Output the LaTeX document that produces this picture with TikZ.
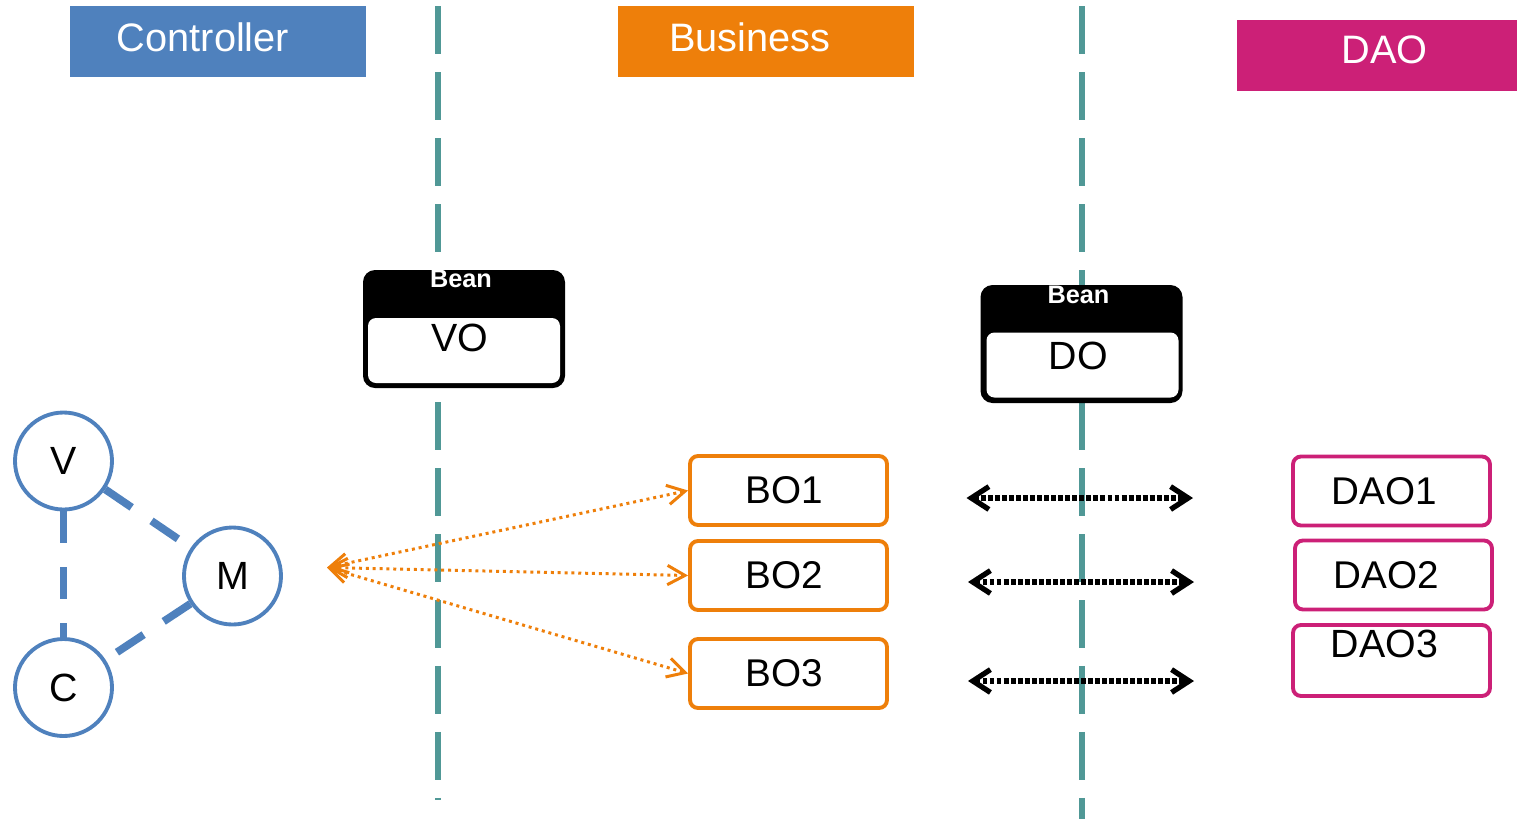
\documentclass[tikz,border=0pt]{standalone}
\usepackage{fontspec}
\setmainfont{Liberation Sans}
\usetikzlibrary{arrows.meta}
\definecolor{ctrlblue}{RGB}{79,129,189}
\definecolor{bizorange}{RGB}{238,127,10}
\definecolor{daopink}{RGB}{204,32,119}
\definecolor{septeal}{RGB}{80,152,150}
\begin{document}
\begin{tikzpicture}
		[	header/.style={rectangle,draw=none,minimum width=2.96cm,minimum height=0.71cm,inner sep=0pt},
		plain/.style={draw=none,fill=none,inner sep=0pt,font=\fontsize{11.2}{13}\selectfont},
		headtext/.style={plain,text=white,font=\fontsize{11.3}{13}\selectfont},
		sep/.style={septeal,line width=1.7pt,dash pattern=on 0.48cm off 0.18cm},
		mvc/.style={circle,draw=ctrlblue,line width=1.1pt,fill=white,minimum size=0.97cm,inner sep=0pt,font=\fontsize{11.2}{13}\selectfont},
		mvclink/.style={ctrlblue,line width=2.2pt,dash pattern=on 0.32cm off 0.24cm},
		beanout/.style={rectangle,fill=black,rounded corners=0.12cm,minimum width=2.02cm,minimum height=1.18cm,inner sep=0pt},
		beanin/.style={rectangle,fill=white,rounded corners=0.08cm,minimum width=1.92cm,minimum height=0.65cm,inner sep=0pt},
		beantext/.style={plain,text=white,font=\bfseries\fontsize{7.2}{8}\selectfont},
		bobox/.style={rectangle,draw=bizorange,fill=white,line width=1.1pt,rounded corners=0.08cm,minimum width=1.97cm,minimum height=0.69cm,inner sep=0pt,font=\fontsize{11}{13}\selectfont},
		daobox/.style={bobox,draw=daopink},
		boarrow/.style={bizorange,line width=0.85pt,dash pattern=on 0.85pt off 1.1pt,>={Straight Barb[length=5pt,width=5.5pt]},<->},
		doarrow/.style={black,line width=1.5pt,dash pattern=on 1.4pt off 0.6pt,>={Straight Barb[length=5pt,width=6.5pt]},<->},
		]
		\useasboundingbox (0,0) rectangle (15.17,-8.19);

		\draw[sep] (4.38,-0.06) -- (4.38,-8.00);
		\draw[sep] (10.82,-0.06) -- (10.82,-8.19);

		\node[header,fill=ctrlblue,name=ctrl] at (2.18,-0.415) {};
		\node[header,fill=bizorange,name=biz] at (7.66,-0.415) {};
		\node[header,fill=daopink,minimum width=2.80cm,name=dao] at (13.77,-0.555) {};
		\node[headtext,xshift=-0.15cm,yshift=0.045cm] at (ctrl) {Controller};
		\node[headtext,xshift=-0.16cm,yshift=0.045cm] at (biz) {Business};
		\node[headtext,xshift=0.075cm,yshift=0.055cm] at (dao) {DAO};

		\node[beanout,name=vobean] at (4.64,-3.29) {};
		\node[beanin,name=voin] at (4.64,-3.505) {};
		\node[beantext,xshift=-0.03cm,yshift=-0.10cm] at (vobean.north) {Bean};
		\node[plain,xshift=-0.045cm,yshift=0.125cm] at (voin) {VO};
		\node[beanout,name=dobean] at (10.815,-3.44) {};
		\node[beanin,name=doin] at (10.825,-3.65) {};
		\node[beantext,xshift=-0.03cm,yshift=-0.11cm] at (dobean.north) {Bean};
		\node[plain,xshift=-0.04cm,yshift=0.09cm] at (doin) {DO};

		\node[mvc,name=v] at (0.635,-4.61) {V};
		\node[mvc,name=m] at (2.325,-5.76) {M};
		\node[mvc,name=c] at (0.635,-6.875) {C};
		\draw[mvclink] (v) -- (m);
		\draw[mvclink] (v) -- (c);
		\draw[mvclink] (m) -- (c);

		\node[bobox,name=bo1] at (7.885,-4.905) {\hspace*{-0.08cm}BO1};
		\node[bobox,name=bo2] at (7.885,-5.755) {\hspace*{-0.08cm}BO2};
		\node[bobox,name=bo3] at (7.885,-6.735) {\hspace*{-0.08cm}BO3};
		\node[daobox,name=dao1] at (13.915,-4.91) {\hspace*{-0.14cm}DAO1};
		\node[daobox,name=dao2] at (13.935,-5.75) {\hspace*{-0.14cm}DAO2};
		\node[daobox,minimum height=0.71cm,name=dao3] at (13.915,-6.605) {};
		\node[plain,xshift=-0.07cm,yshift=0.165cm] at (dao3) {DAO3};

		\coordinate (hub) at (3.27,-5.675);
		\draw[boarrow] (hub) -- (bo1.west);
		\draw[boarrow] (hub) -- (bo2.west);
		\draw[boarrow] (hub) -- (bo3.west);

		\coordinate (l1) at (9.665,-4.98);
		\coordinate (r1) at (11.93,-4.98);
		\coordinate (l2) at (9.68,-5.82);
		\coordinate (r2) at (11.94,-5.82);
		\coordinate (l3) at (9.68,-6.81);
		\coordinate (r3) at (11.94,-6.81);
		\draw[doarrow] (l1) -- (r1);
		\draw[doarrow] (l2) -- (r2);
		\draw[doarrow] (l3) -- (r3);
	\end{tikzpicture}
\end{document}
